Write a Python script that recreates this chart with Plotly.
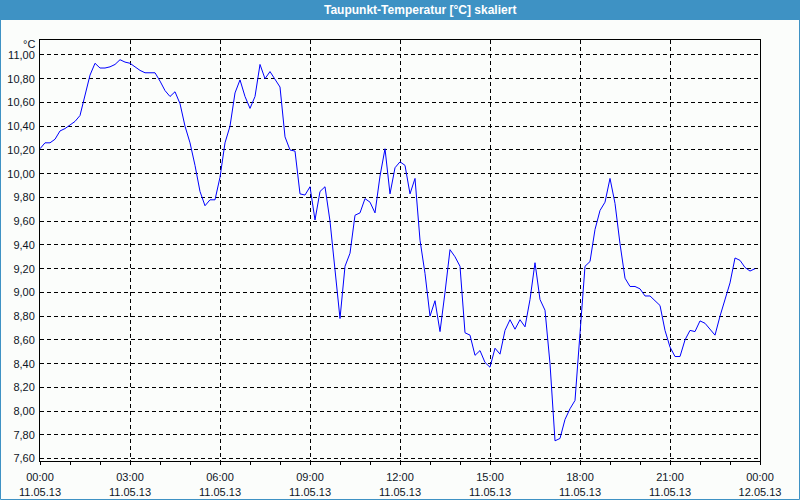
import pandas as pd
import plotly.graph_objects as go

# ---- data (10-minute readings, 11.05.13 00:00 .. 23:50) ----
start_time = "2013-05-11 00:00"
dew_point = [
    10.21, 10.26, 10.26, 10.29, 10.36, 10.38, 10.41, 10.44, 10.49, 10.65,
    10.83, 10.93, 10.89, 10.89, 10.90, 10.92, 10.96, 10.94, 10.93, 10.90,
    10.87, 10.85, 10.85, 10.85, 10.78, 10.70, 10.65, 10.69, 10.59, 10.40,
    10.26, 10.07, 9.85, 9.73, 9.78, 9.78, 9.97, 10.26, 10.40, 10.68,
    10.79, 10.65, 10.55, 10.65, 10.92, 10.80, 10.86, 10.79, 10.73, 10.31,
    10.20, 10.19, 9.83, 9.82, 9.89, 9.61, 9.85, 9.89, 9.60, 9.19,
    8.78, 9.22, 9.33, 9.65, 9.67, 9.79, 9.76, 9.67, 9.98, 10.21,
    9.83, 10.05, 10.10, 10.07, 9.83, 9.96, 9.44, 9.16, 8.80, 8.93,
    8.67, 9.00, 9.36, 9.30, 9.22, 8.66, 8.64, 8.47, 8.51, 8.41,
    8.37, 8.53, 8.48, 8.68, 8.77, 8.69, 8.77, 8.71, 8.94, 9.25,
    8.94, 8.85, 8.40, 7.75, 7.77, 7.93, 8.02, 8.09, 8.66, 9.22,
    9.26, 9.53, 9.69, 9.76, 9.96, 9.75, 9.41, 9.12, 9.05, 9.05,
    9.03, 8.97, 8.97, 8.93, 8.89, 8.68, 8.54, 8.46, 8.46, 8.60,
    8.68, 8.67, 8.76, 8.74, 8.69, 8.64, 8.80, 8.94, 9.08, 9.29,
    9.27, 9.21, 9.18, 9.20,
]
x_tick_times = ["2013-05-11 00:00", "2013-05-11 03:00", "2013-05-11 06:00",
                "2013-05-11 09:00", "2013-05-11 12:00", "2013-05-11 15:00",
                "2013-05-11 18:00", "2013-05-11 21:00", "2013-05-12 00:00"]
x_tick_labels = ["00:00<br>11.05.13", "03:00<br>11.05.13", "06:00<br>11.05.13",
                 "09:00<br>11.05.13", "12:00<br>11.05.13", "15:00<br>11.05.13",
                 "18:00<br>11.05.13", "21:00<br>11.05.13", "00:00<br>12.05.13"]
y_tick_values = [7.6, 7.8, 8.0, 8.2, 8.4, 8.6, 8.8, 9.0, 9.2, 9.4, 9.6, 9.8,
                 10.0, 10.2, 10.4, 10.6, 10.8, 11.0]
title_text = "Taupunkt-Temperatur [°C] skaliert"
unit_text = "°C"

times = pd.date_range(start_time, periods=len(dew_point), freq="10min")

W, H = 800, 500
L, R, T, B = 40, 40, 40, 39
PW, PH = W - L - R, H - T - B


def px_x(px):
    return (px - L) / PW


def px_y(py):
    return (H - B - py) / PH


FONT = "Liberation Sans, Arial, sans-serif"
TXT = "#0d1526"
BLUE = "#3e92c4"

fig = go.Figure()
fig.add_trace(go.Scatter(x=times, y=dew_point, mode="lines",
                         line=dict(color="#0000ff", width=1),
                         hoverinfo="x+y", showlegend=False))

fig.update_layout(
    width=W, height=H,
    margin=dict(l=L, r=R, t=T, b=B, pad=0, autoexpand=False),
    paper_bgcolor="#fbfdfb",
    plot_bgcolor="#fbfdfb",
    separators=",.",
    font=dict(family=FONT, size=11, color=TXT),
    showlegend=False,
    xaxis=dict(
        type="date", automargin=False,
        range=["2013-05-11 00:00", "2013-05-12 00:00"],
        tickvals=x_tick_times, ticktext=x_tick_labels,
        showgrid=True, gridcolor="#000000", gridwidth=1, griddash="4px,3px",
        showline=True, linecolor="#000000", linewidth=1, mirror=True,
        ticks="outside", ticklen=3, tickcolor="#000000",
        minor=dict(dtick=3600000, ticks="outside", ticklen=3,
                   tickcolor="#000000", showgrid=False),
        zeroline=False, fixedrange=True,
        ticklabelstandoff=3,
        tickfont=dict(family=FONT, size=11, color=TXT),
    ),
    yaxis=dict(
        automargin=False,
        range=[7.58, 11.126],
        tickvals=y_tick_values, tickformat=".2f",
        showgrid=True, gridcolor="#000000", gridwidth=1, griddash="4px,3px",
        showline=True, linecolor="#000000", linewidth=1, mirror=True,
        ticks="", zeroline=False, fixedrange=True,
        tickfont=dict(family=FONT, size=11, color=TXT),
        ticklabelstandoff=2,
    ),
    shapes=[
        # title bar
        dict(type="rect", xref="paper", yref="paper",
             x0=px_x(0), x1=px_x(W), y0=px_y(20), y1=px_y(0),
             fillcolor=BLUE, line=dict(width=0), layer="below"),
        # window border
        dict(type="rect", xref="paper", yref="paper",
             x0=px_x(0.5), x1=px_x(W - 0.5), y0=px_y(H - 0.5), y1=px_y(0.5),
             line=dict(color=BLUE, width=1), fillcolor="rgba(0,0,0,0)",
             layer="above"),
    ],
    annotations=[
        dict(text="<b>" + title_text + "</b>", xref="paper", yref="paper",
             x=px_x(420), y=px_y(10), xanchor="center", yanchor="middle",
             showarrow=False, font=dict(family=FONT, size=12, color="#ffffff")),
        dict(text=unit_text, xref="paper", yref="paper",
             x=px_x(37), y=px_y(44), xanchor="right", yanchor="middle",
             showarrow=False, font=dict(family=FONT, size=11, color=TXT)),
    ],
)

fig.write_html("out.html")
